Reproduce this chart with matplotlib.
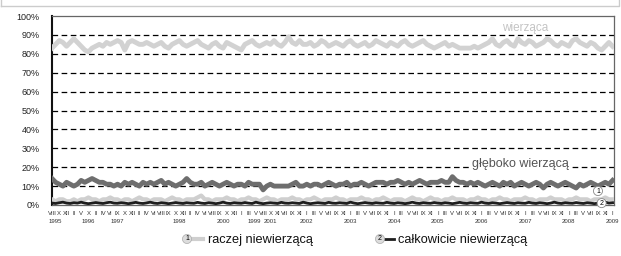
import matplotlib
matplotlib.use("Agg")
import matplotlib.pyplot as plt
from matplotlib.lines import Line2D
import numpy as np

plt.rcParams["font.family"] = ["Liberation Sans", "DejaVu Sans"]

# survey waves (categorical axis), values in %
wierzaca = [
    83, 85, 87, 86, 84, 86, 88, 86, 84, 82,
    81, 83, 84, 85, 84, 86, 85, 86, 87, 86,
    82, 86, 87, 86, 85, 85, 86, 85, 84, 85,
    86, 84, 83, 85, 86, 87, 85, 84, 85, 86,
    87, 85, 84, 83, 85, 86, 84, 83, 86, 85,
    84, 83, 82, 85, 86, 87, 85, 84, 85, 86,
    85, 87, 85, 84, 86, 89, 86, 85, 87, 85,
    85, 86, 84, 85, 87, 86, 84, 85, 86, 85,
    84, 86, 87, 85, 84, 85, 86, 84, 85, 87,
    86, 85, 84, 86, 85, 84, 86, 87, 85, 84,
    85, 86, 87, 85, 84, 83, 84, 85, 86, 84,
    85, 84, 83, 83, 83, 83, 84, 83, 84, 85,
    86, 88, 85, 84, 86, 87, 85, 84, 88, 86,
    85, 87, 86, 84, 85, 86, 88, 87, 85, 84,
    86, 85, 84, 87, 88, 86, 85, 84, 86, 85,
    83, 82, 84, 86, 84,
]
gleboko = [
    14, 12, 11, 10, 12, 11, 10, 11, 13, 12,
    13, 14, 13, 12, 12, 11, 11, 10, 11, 10,
    12, 11, 12, 11, 10, 12, 11, 12, 11, 12,
    13, 11, 12, 11, 10, 11, 12, 14, 12, 11,
    11, 12, 10, 11, 12, 11, 10, 11, 12, 11,
    10, 11, 11, 10, 12, 11, 11, 11, 8, 10,
    11, 10, 10, 10, 10, 10, 11, 12, 10, 10,
    11, 10, 11, 11, 10, 11, 12, 11, 10, 11,
    11, 12, 10, 11, 11, 12, 11, 10, 11, 12,
    12, 12, 11, 12, 12, 13, 12, 11, 12, 11,
    12, 13, 12, 11, 12, 12, 12, 13, 12, 12,
    15, 13, 12, 12, 11, 12, 11, 12, 11, 10,
    11, 12, 11, 10, 12, 11, 12, 10, 11, 12,
    11, 10, 11, 12, 11, 9, 11, 12, 11, 10,
    11, 12, 11, 10, 9, 11, 10, 11, 12, 11,
    10, 11, 12, 11, 13,
]
raczej = [
    3, 2, 3, 3, 2, 2, 3, 2, 3, 3,
    4, 3, 3, 2, 3, 3, 4, 3, 3, 2,
    3, 3, 2, 3, 4, 3, 3, 2, 3, 3,
    3, 2, 3, 4, 3, 3, 2, 3, 3, 3,
    4, 5, 3, 3, 2, 3, 3, 3, 4, 3,
    3, 2, 3, 3, 4, 3, 3, 2, 3, 4,
    3, 3, 2, 3, 3, 3, 4, 3, 3, 2,
    3, 3, 4, 3, 2, 3, 3, 3, 4, 3,
    3, 2, 3, 3, 3, 4, 3, 3, 2, 3,
    3, 4, 3, 2, 3, 3, 3, 2, 3, 4,
    3, 3, 2, 3, 4, 3, 3, 2, 3, 3,
    4, 3, 3, 3, 2, 3, 3, 4, 3, 3,
    2, 3, 3, 4, 3, 3, 2, 3, 3, 3,
    4, 3, 3, 2, 3, 3, 3, 4, 3, 3,
    3, 2, 3, 3, 4, 3, 3, 3, 2, 3,
    3, 3, 4, 3, 3,
]
calkowicie = [
    1.0, 0.8, 1.2, 1.5, 1.0, 0.8, 1.2, 1.0, 1.5, 1.0,
    0.7, 1.0, 1.3, 1.0, 0.8, 1.2, 1.5, 1.0, 0.9, 1.2,
    1.0, 0.7, 1.0, 1.4, 1.0, 0.8, 1.1, 1.5, 1.0, 0.8,
    1.2, 1.0, 0.7, 1.0, 1.3, 1.0, 0.8, 1.2, 1.0, 0.9,
    1.4, 1.0, 0.8, 1.2, 1.0, 0.7, 1.0, 1.5, 1.0, 0.8,
    1.2, 1.0, 0.9, 1.3, 1.0, 0.8, 1.5, 1.0, 0.7, 1.0,
    1.2, 1.0, 0.8, 1.4, 1.0, 0.9, 1.2, 1.0, 0.8, 1.5,
    1.0, 0.7, 1.0, 1.2, 1.0, 0.8, 1.4, 1.0, 0.9, 1.2,
    1.0, 0.8, 1.5, 1.0, 0.7, 1.0, 1.3, 1.0, 0.8, 1.2,
    1.0, 0.9, 1.4, 1.0, 0.8, 1.2, 1.0, 0.7, 1.0, 1.5,
    1.0, 0.8, 1.2, 1.0, 0.9, 1.3, 1.0, 0.8, 1.2, 1.0,
    0.7, 1.0, 1.4, 1.0, 0.8, 1.2, 1.0, 0.9, 1.5, 1.0,
    0.8, 1.2, 1.0, 0.7, 1.0, 1.3, 1.0, 0.8, 1.2, 1.0,
    0.9, 1.4, 1.0, 0.8, 1.2, 1.0, 0.7, 1.0, 1.5, 1.0,
    0.8, 1.2, 1.0, 0.9, 1.3, 1.0, 0.8, 1.2, 1.0, 0.7,
    1.0, 1.2, 1.5, 1.0, 1.2,
]

early_months = ["VIII", "X", "XII", "II", "V", "X", "II", "IV", "VI", "IX",
                "X", "XII", "II", "IV", "VI", "VIII", "IX", "X", "XII", "II",
                "IV", "VI", "VIII", "IX", "X", "XII", "I", "III", "V", "VIII",
                "X", "XI", "VII", "IX", "XI"]
late_months = ["I", "III", "V", "VII", "IX", "XI"]
year_labels = ["1995", "1996", "1997", "1998", "2000", "1999", "2001",
               "2002", "2003", "2004", "2005", "2006", "2007", "2008", "2009"]
year_idx = [1, 10, 18, 35, 47, 55.6, 60.0, 70, 82, 94, 106, 118, 130, 142, 154]

n = len(wierzaca)
x = np.arange(n)

fig = plt.figure(figsize=(6.21, 2.56), dpi=100)
ax = fig.add_axes([52 / 621, 51 / 256, 562 / 621, 189 / 256])

ax.set_ylim(0, 100)
ax.set_xlim(0, n - 1 + 0.4)
ax.set_yticks(np.arange(0, 101, 10))
ax.set_yticklabels([f"{v}%" for v in range(0, 101, 10)], fontsize=6.5, color="#222")
for v in range(10, 100, 10):
    ax.axhline(v, color="black", lw=0.9, ls=(0, (4.5, 2.8)), zorder=1)

ax.plot(x, wierzaca, color="#d2d2d2", lw=3.5, zorder=3)
ax.plot(x, gleboko, color="#6e6e6e", lw=3.5, zorder=3)
ax.plot(x, raczej, color="#cfcfcf", lw=3, zorder=3)
ax.plot(x, calkowicie, color="#1e1e1e", lw=2, zorder=4)

months = early_months + late_months * 8
ticks = np.arange(0, n, 2)
months = months[:len(ticks)]
ax.set_xticks(ticks)
ax.set_xticklabels(months, fontsize=4.3, color="#333")
ax.tick_params(axis="both", length=0)
ax.tick_params(axis="x", pad=4)
ax.tick_params(axis="y", pad=9)

for lab, xi in zip(year_labels, year_idx):
    ax.text(xi, -7.3, lab, fontsize=4.3, color="#333", ha="center", va="top",
            transform=ax.transData, clip_on=False)

for s in ["top", "right", "bottom"]:
    ax.spines[s].set_color("#666")
    ax.spines[s].set_linewidth(0.9)
ax.spines["left"].set_color("#111")
ax.spines["left"].set_linewidth(1.5)

ax.text(129.9, 93.6, "wierząca", fontsize=8.5, color="#c4c4c4",
        ha="center", va="center", zorder=5)
ax.text(128.6, 21.5, "głęboko wierzącą", fontsize=9, color="#555",
        ha="center", va="center", zorder=5,
        bbox=dict(boxstyle="square,pad=0.15", fc="white", ec="none"))

circ = dict(boxstyle="circle,pad=0.15", fc="white", ec="#888", lw=0.6)
ax.text(150, 7.4, "1", fontsize=5, ha="center", va="center", zorder=6, bbox=circ)
ax.text(151, 1.0, "2", fontsize=5, ha="center", va="center", zorder=6, bbox=circ)

# legend drawn by hand
ly = 1 - 239 / 256
lcirc = dict(boxstyle="circle,pad=0.15", fc="#dcdcdc", ec="#aaa", lw=0.5)
fig.text(187 / 621, ly, "1", fontsize=5, ha="center", va="center", bbox=lcirc)
fig.add_artist(Line2D([192 / 621, 203 / 621], [ly, ly],
                      color="#cfcfcf", lw=3, transform=fig.transFigure))
fig.text(208 / 621, ly - 0.004, "raczej niewierzącą", fontsize=9.2,
         ha="left", va="center", color="#111")
fig.text(380 / 621, ly, "2", fontsize=5, ha="center", va="center", bbox=lcirc)
fig.add_artist(Line2D([385 / 621, 394 / 621], [ly, ly],
                      color="#1e1e1e", lw=2, transform=fig.transFigure))
fig.text(398 / 621, ly - 0.004, "całkowicie niewierzącą", fontsize=9.2,
         ha="left", va="center", color="#111")

# edge of the box above (cropped)
top = 1 - 6 / 256
fig.add_artist(Line2D([1 / 621, 619 / 621, 619 / 621], [top, top, 1],
                      color="#cccccc", lw=1, transform=fig.transFigure))
fig.add_artist(Line2D([1 / 621, 1 / 621], [top, 1],
                      color="#cccccc", lw=1, transform=fig.transFigure))

fig.savefig("out.png", dpi=100)
